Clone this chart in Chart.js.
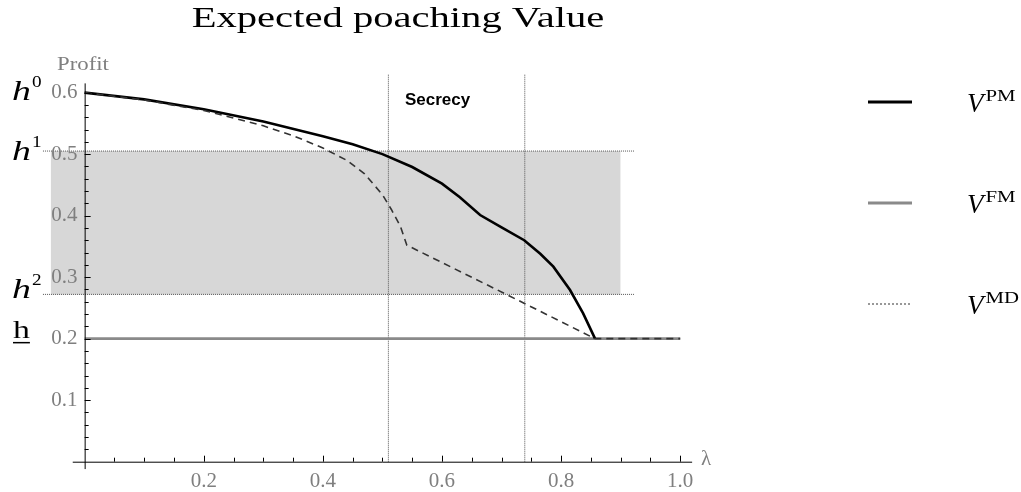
<!DOCTYPE html>
<html>
<head>
<meta charset="utf-8">
<title>Expected poaching Value</title>
<script src="https://cdn.jsdelivr.net/npm/chart.js@4.4.1/dist/chart.umd.min.js"></script>
<style>
    html, body { margin: 0; padding: 0; background: #ffffff; }
    #wrap { width: 1021px; height: 492px; }
</style>
</head>
<body>
<div id="wrap"><canvas id="poachChart" width="1021" height="492"></canvas></div>
<script>
// --- DATA ---
const pmX = [0, 0.1, 0.2, 0.3, 0.4, 0.45, 0.5, 0.55, 0.6, 0.63, 0.664, 0.7, 0.738, 0.765, 0.787, 0.815, 0.837, 0.857];
const pmY = [0.600, 0.589, 0.573, 0.553, 0.529, 0.516, 0.500, 0.479, 0.452, 0.430, 0.401, 0.381, 0.360, 0.338, 0.317, 0.279, 0.241, 0.200];

const fmX = [0, 1.0];
const fmY = [0.2, 0.2];

const mdX = [0, 0.1, 0.2, 0.3, 0.35, 0.4, 0.44, 0.47, 0.5, 0.515, 0.53, 0.541, 0.708, 0.857, 1.0];
const mdY = [0.600, 0.588, 0.571, 0.546, 0.530, 0.510, 0.490, 0.468, 0.434, 0.410, 0.383, 0.352, 0.272, 0.200, 0.200];

// h0, h1, h2 and the underlined h
const hLevels = [0.6, 0.505, 0.272, 0.2];
const hSups = ['0', '1', '2', ''];

// shaded band between h2 and h1, dotted guides at h1 and h2
const bandX = [-0.057, 0.90];
const guideX = [-0.07, 0.924];

// secrecy region
const secrecyX = [0.51, 0.739];
const secrecyTop = 0.63;

const xTicks = [0.2, 0.4, 0.6, 0.8, 1.0];
const yTicks = [0.1, 0.2, 0.3, 0.4, 0.5, 0.6];

const legendNames = ['PM', 'FM', 'MD'];

// --- HELPERS ---
function pts(xs, ys) {
    return xs.map((x, i) => ({ x: x, y: ys[i] }));
}

function drawText(ctx, text, px, py, font, color, align, stretch) {
    ctx.save();
    ctx.font = font;
    ctx.fillStyle = color;
    ctx.textAlign = align || 'left';
    ctx.textBaseline = 'alphabetic';
    ctx.translate(px, py);
    ctx.scale(stretch || 1, 1);
    ctx.fillText(text, 0, 0);
    const w = ctx.measureText(text).width * (stretch || 1);
    ctx.restore();
    return w;
}

function strokeLine(ctx, x1, y1, x2, y2, color, width, dash) {
    ctx.save();
    ctx.strokeStyle = color;
    ctx.lineWidth = width;
    ctx.setLineDash(dash || []);
    ctx.beginPath();
    ctx.moveTo(x1, y1);
    ctx.lineTo(x2, y2);
    ctx.stroke();
    ctx.restore();
}

const SERIF = '"Liberation Serif", "Times New Roman", serif';
const GREY_TXT = '#7f7f7f';

// --- AXES, LABELS AND LEGEND ---
const extrasPlugin = {
    id: 'extras',
    afterDatasetsDraw(chart) {
        const ctx = chart.ctx;
        const xs = chart.scales.x;
        const ys = chart.scales.y;
        const x0 = xs.getPixelForValue(0);
        const y0 = ys.getPixelForValue(0);

        // axis lines
        strokeLine(ctx, xs.getPixelForValue(-0.02), y0 + 0.5, xs.getPixelForValue(1.02), y0 + 0.5, '#000', 1);
        strokeLine(ctx, x0 + 0.5, ys.getPixelForValue(-0.012), x0 + 0.5, ys.getPixelForValue(0.615), '#000', 1);

        // inward tick marks
        for (let k = 1; k <= 20; k++) {
            const px = Math.round(xs.getPixelForValue(k * 0.05)) + 0.5;
            const len = k % 4 === 0 ? 6 : 4;
            strokeLine(ctx, px, y0, px, y0 - len, '#000', 1);
        }
        for (let k = 1; k <= 30; k++) {
            const py = Math.round(ys.getPixelForValue(k * 0.02)) + 0.5;
            const len = k % 5 === 0 ? 6 : 4;
            strokeLine(ctx, x0, py, x0 + len, py, '#000', 1);
        }

        // title
        drawText(ctx, 'Expected poaching Value', 398, 27, '29px ' + SERIF, '#000', 'center', 1.4);

        // axis names
        drawText(ctx, 'Profit', 57, 70, '19px ' + SERIF, GREY_TXT, 'left', 1.2);
        drawText(ctx, '\u03bb', 701, 465, '21px ' + SERIF, GREY_TXT, 'left', 1);

        // region label
        drawText(ctx, 'Secrecy', 405, 105, 'bold 17px "Liberation Sans", Arial, sans-serif', '#000', 'left', 1);

        // h labels on the left
        const hOffsets = [7.5, 9, 4];
        for (let i = 0; i < 3; i++) {
            const by = ys.getPixelForValue(hLevels[i]) + hOffsets[i];
            const w = drawText(ctx, 'h', 12, by, 'italic 27px ' + SERIF, '#000', 'left', 1.4);
            drawText(ctx, hSups[i], 12 + w + 1, by - 13, '16px ' + SERIF, '#000', 'left', 1.2);
        }
        const hy = ys.getPixelForValue(hLevels[3]) - 1;
        const hw = drawText(ctx, 'h', 13, hy, '26px ' + SERIF, '#000', 'left', 1.3);
        strokeLine(ctx, 13, hy + 5, 13 + hw, hy + 5, '#000', 1.5);

        // legend
        const rows = [102, 203, 304];
        chart.data.datasets.filter(d => d.legendRow !== undefined).forEach(d => {
            const ry = rows[d.legendRow];
            strokeLine(ctx, 868, ry, 912, ry, d.legendColor, d.legendWidth, d.legendDash);
            const w = drawText(ctx, 'V', 967, ry + 10, 'italic 27px ' + SERIF, '#000', 'left', 1);
            drawText(ctx, legendNames[d.legendRow], 967 + w + 2, ry - 1, '16px ' + SERIF, '#000', 'left', 1.3);
        });
    }
};

// --- CHART ---
const ctx = document.getElementById('poachChart').getContext('2d');
const poachChart = new Chart(ctx, {
    type: 'line',
    data: {
        datasets: [
            {
                label: 'V^MD',
                data: pts(mdX, mdY),
                borderColor: '#333333',
                borderWidth: 1.6,
                borderDash: [7, 5],
                order: 0,
                legendRow: 2, legendColor: '#777777', legendWidth: 1.5, legendDash: [2, 2]
            },
            {
                label: 'V^PM',
                data: pts(pmX, pmY),
                borderColor: '#000000',
                borderWidth: 2.6,
                order: 1,
                legendRow: 0, legendColor: '#000000', legendWidth: 3, legendDash: []
            },
            {
                label: 'V^FM',
                data: pts(fmX, fmY),
                borderColor: '#8a8a8a',
                borderWidth: 2.6,
                order: 2,
                legendRow: 1, legendColor: '#8a8a8a', legendWidth: 3, legendDash: []
            },
            {
                label: 'secrecy-left',
                data: pts([secrecyX[0], secrecyX[0]], [0, secrecyTop]),
                borderColor: '#555555',
                borderWidth: 1,
                borderDash: [1, 1],
                order: 3
            },
            {
                label: 'secrecy-right',
                data: pts([secrecyX[1], secrecyX[1]], [0, secrecyTop]),
                borderColor: '#555555',
                borderWidth: 1,
                borderDash: [1, 1],
                order: 3
            },
            {
                label: 'h1',
                data: pts(guideX, [hLevels[1], hLevels[1]]),
                borderColor: '#555555',
                borderWidth: 1,
                borderDash: [1, 1],
                order: 4
            },
            {
                label: 'h2',
                data: pts(guideX, [hLevels[2], hLevels[2]]),
                borderColor: '#555555',
                borderWidth: 1,
                borderDash: [1, 1],
                order: 4
            },
            {
                label: 'band',
                data: pts(bandX, [hLevels[1], hLevels[1]]),
                borderWidth: 0,
                borderColor: 'rgba(0,0,0,0)',
                backgroundColor: '#d7d7d7',
                fill: { value: hLevels[2] },
                order: 5
            }
        ]
    },
    options: {
        responsive: false,
        animation: false,
        devicePixelRatio: 1,
        layout: {
            padding: { left: 37, right: 311, top: 68, bottom: 18 }
        },
        elements: {
            point: { radius: 0, hoverRadius: 0 },
            line: { tension: 0 }
        },
        scales: {
            x: {
                type: 'linear',
                min: -0.08,
                max: 1.05,
                position: { y: 0 },
                grid: { display: false, drawTicks: false },
                border: { display: false },
                afterBuildTicks: (scale) => { scale.ticks = xTicks.map(v => ({ value: v })); },
                ticks: {
                    z: 1,
                    autoSkip: false,
                    maxRotation: 0,
                    padding: 7,
                    color: GREY_TXT,
                    font: { family: 'Liberation Serif', size: 21 },
                    callback: (v) => Number(v).toFixed(1)
                }
            },
            y: {
                type: 'linear',
                min: -0.02,
                max: 0.64,
                // labels sit just left of the x = 0 axis line
                position: { x: -0.012 },
                grid: { display: false, drawTicks: false },
                border: { display: false },
                afterBuildTicks: (scale) => { scale.ticks = yTicks.map(v => ({ value: v })); },
                ticks: {
                    z: 1,
                    autoSkip: false,
                    padding: 0,
                    color: GREY_TXT,
                    font: { family: 'Liberation Serif', size: 21 },
                    callback: (v) => Number(v).toFixed(1)
                }
            }
        },
        plugins: {
            legend: { display: false },
            title: { display: false },
            tooltip: { enabled: false }
        }
    },
    plugins: [extrasPlugin]
});
</script>
</body>
</html>
